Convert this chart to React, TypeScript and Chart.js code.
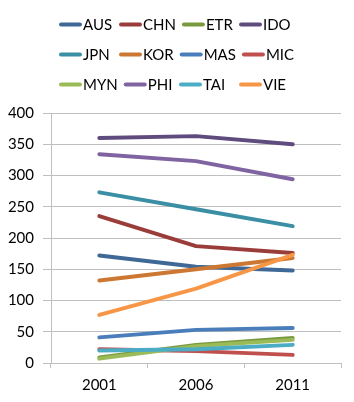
import React, { useEffect, useRef } from "react";
import { Chart, registerables } from "chart.js";

Chart.register(...registerables);

const years = ["2001", "2006", "2011"];
const seriesNames = ["AUS", "CHN", "ETR", "IDO", "JPN", "KOR", "MAS", "MIC", "MYN", "PHI", "TAI", "VIE"];

const AUS = [172, 154, 148];
const CHN = [235, 187, 176];
const ETR = [9, 29, 40];
const IDO = [360, 363, 350];
const JPN = [273, 246, 219];
const KOR = [132, 150, 168];
const MAS = [41, 53, 56];
const MIC = [22, 19, 13];
const MYN = [7, 27, 37];
const PHI = [334, 323, 294];
const TAI = [20, 22, 29];
const VIE = [77, 119, 173];

const seriesValues = [AUS, CHN, ETR, IDO, JPN, KOR, MAS, MIC, MYN, PHI, TAI, VIE];

const seriesColors = [
  "#3F6896", "#9A3D3A", "#7A9A3F", "#5F4B7E",
  "#3A8FA4", "#CC7833", "#4A7EBB", "#C0504D",
  "#9BBB59", "#8064A2", "#4BACC6", "#F79646",
];

const yTicks = [0, 50, 100, 150, 200, 250, 300, 350, 400];

const FONT = "Lato, 'Open Sans', sans-serif";
const GRID = "#BFBFBF";

const gridLegend = {
  id: "gridLegend",
  afterDraw(chart: any) {
    const ctx = chart.ctx;
    ctx.save();
    ctx.font = `15px ${FONT}`;
    ctx.textBaseline = "middle";
    ctx.textAlign = "left";
    let prevEnd = -Infinity;
    chart.data.datasets.forEach((d: any, i: number) => {
      const col = i % 4;
      const row = Math.floor(i / 4);
      if (col === 0) prevEnd = -Infinity;
      const x = Math.max(51 + col * 60, prevEnd + 6);
      const y = 16.5 + row * 30;
      ctx.strokeStyle = d.borderColor;
      ctx.lineWidth = 4;
      ctx.lineCap = "round";
      ctx.beginPath();
      ctx.moveTo(x + 2, y);
      ctx.lineTo(x + 21, y);
      ctx.stroke();
      ctx.fillStyle = "#000";
      ctx.fillText(d.label, x + 24, y + 1);
      prevEnd = x + 24 + ctx.measureText(d.label).width;
    });
    ctx.restore();
  },
};

export default function App() {
  const ref = useRef<HTMLCanvasElement | null>(null);

  useEffect(() => {
    if (!ref.current) return;
    const chart = new Chart(ref.current, {
      type: "line",
      data: {
        labels: years,
        datasets: seriesNames.map((name, i) => ({
          label: name,
          data: seriesValues[i],
          borderColor: seriesColors[i],
          backgroundColor: seriesColors[i],
          borderWidth: 4,
          pointRadius: 0,
          pointHoverRadius: 0,
          tension: 0,
          fill: false,
          order: seriesNames.length - i,
          borderCapStyle: "round",
          borderJoinStyle: "round",
        })),
      },
      options: {
        responsive: false,
        animation: false,
        layout: { padding: { top: 105, right: 5, left: 0, bottom: 0 } },
        plugins: {
          legend: { display: false },
          tooltip: { enabled: false },
        },
        scales: {
          x: {
            offset: true,
            grid: {
              offset: true,
              drawOnChartArea: false,
              drawTicks: true,
              tickLength: 5,
              color: GRID,
            },
            border: { display: true, color: GRID },
            ticks: {
              color: "#000",
              padding: 8,
              font: { family: FONT, size: 15 },
            },
            afterFit(scale: any) {
              scale.height = 31;
            },
          },
          y: {
            min: 0,
            max: 400,
            afterBuildTicks(scale: any) {
              scale.ticks = yTicks.map((v) => ({ value: v }));
            },
            grid: {
              color: GRID,
              drawTicks: true,
              tickLength: 8,
            },
            border: { display: true, color: GRID },
            ticks: {
              color: "#000",
              padding: 9,
              font: { family: FONT, size: 15 },
            },
            afterFit(scale: any) {
              scale.width = 43;
            },
          },
        },
      },
      plugins: [gridLegend],
    });
    return () => chart.destroy();
  }, []);

  return (
    <div style={{ width: 338, height: 386 }}>
      <canvas ref={ref} width={338} height={386} />
    </div>
  );
}
